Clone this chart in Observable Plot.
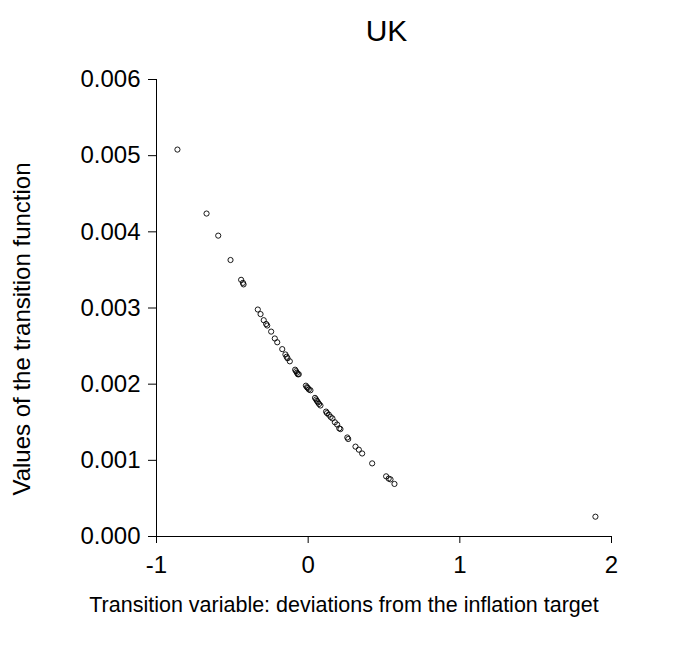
<!DOCTYPE html>
<html><head><meta charset="utf-8">
<script src="https://cdn.jsdelivr.net/npm/d3@7"></script>
<script src="https://cdn.jsdelivr.net/npm/@observablehq/plot@0.6"></script>
<style>
body{margin:0;background:#fff;font-family:"Liberation Sans",Arial,sans-serif;}
#title{height:60px;width:689px;box-sizing:border-box;padding-left:84px;text-align:center;font-size:30px;line-height:62px;color:#000;}
</style></head><body>
<div id="title">UK</div>
<div id="chart"></div>
<script>
const titleText = "UK";
const xLabel = "Transition variable: deviations from the inflation target";
const yLabel = "Values of the transition function";
const xTicks = [-1, 0, 1, 2];
const yTicks = [0, 0.001, 0.002, 0.003, 0.004, 0.005, 0.006];

const xValues = [-0.862,-0.670,-0.593,-0.512,-0.442,-0.430,-0.426,-0.332,-0.314,-0.293,-0.277,-0.270,-0.244,-0.220,-0.204,-0.171,-0.150,-0.142,-0.136,-0.121,-0.086,-0.080,-0.074,-0.068,-0.062,-0.015,-0.008,-0.002,0.005,0.015,0.045,0.052,0.058,0.065,0.072,0.081,0.118,0.124,0.136,0.148,0.160,0.176,0.191,0.205,0.213,0.258,0.264,0.312,0.334,0.356,0.422,0.514,0.531,0.543,0.569,1.894];
const yValues = [0.00508,0.00424,0.00395,0.00363,0.00337,0.00333,0.00331,0.00298,0.00292,0.00284,0.00279,0.00277,0.00269,0.00260,0.00255,0.00246,0.00239,0.00236,0.00234,0.00230,0.00219,0.00217,0.00215,0.00213,0.00213,0.00198,0.00196,0.00195,0.00193,0.00192,0.00182,0.00180,0.00178,0.00176,0.00174,0.00172,0.00164,0.00162,0.00160,0.00157,0.00155,0.00150,0.00147,0.00142,0.00141,0.00130,0.00128,0.00118,0.00114,0.00109,0.00096,0.00079,0.00076,0.00075,0.00069,0.00026];

const data = xValues.map((x, i) => ({x, y: yValues[i]}));
document.getElementById("title").textContent = titleText;

const plot = Plot.plot({
  width: 689,
  height: 593,
  marginTop: 19,
  marginLeft: 156,
  marginRight: 78,
  marginBottom: 117,
  style: {fontFamily: '"Liberation Sans", Arial, sans-serif', color: "#000", background: "#fff"},
  x: {domain: [-1, 2]},
  y: {domain: [0, 0.006]},
  marks: [
    Plot.ruleX([-1], {y1: 0, y2: 0.006, stroke: "#000", strokeWidth: 1}),
    Plot.ruleY([0], {x1: -1, x2: 2, stroke: "#000", strokeWidth: 1}),
    Plot.axisY(yTicks, {ticks: yTicks, tickFormat: d => d.toFixed(3), tickSize: 8, tickPadding: 8, fontSize: 24, label: null, stroke: "#000", fill: "#000"}),
    Plot.axisX(xTicks, {ticks: xTicks, tickFormat: d => String(d), tickSize: 7, tickPadding: 12, fontSize: 24, label: null, stroke: "#000", fill: "#000"}),
    Plot.dot(data, {x: "x", y: "y", r: 2.6, stroke: "#000", strokeWidth: 0.9, fill: "none"}),
    Plot.text([xLabel], {frameAnchor: "bottom", text: d => d, dx: -40, dy: 69, lineAnchor: "middle", fontSize: 21.5, fill: "#000"}),
    Plot.text([yLabel], {frameAnchor: "left", text: d => d, rotate: -90, textAnchor: "middle", dx: -134, dy: 21, lineAnchor: "middle", fontSize: 24, fill: "#000"})
  ]
});
document.getElementById("chart").appendChild(plot);
</script>
</body></html>
